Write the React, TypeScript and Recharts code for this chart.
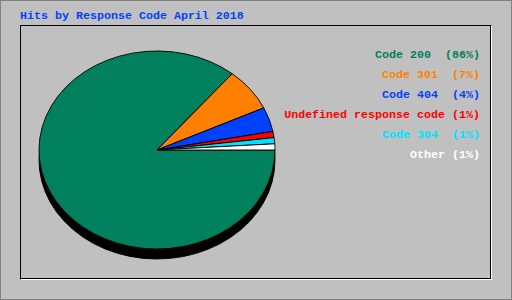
import { PieChart, Pie, Cell } from 'recharts';

// response codes, in drawing order (clockwise from 3 o'clock)
const labels = ['Code 200 ', 'Code 301 ', 'Code 404 ', 'Undefined response code', 'Code 304 ', 'Other'];
const percents = [86, 7, 4, 1, 1, 1];
const COLORS = ['#00805c', '#ff8000', '#0040ff', '#ff0000', '#00e0ff', '#ffffff'];

const TITLE = 'Hits by Response Code April 2018';

const pieData = labels.map((label, i) => ({ name: label, value: percents[i] }));

const CX = 157;
const CY = 150;
const RX = 118;
const RY = 99;
const DEPTH = 10;
const SCALE = RY / RX;

const font = '"Liberation Mono", "DejaVu Sans Mono", monospace';

export default function App() {
  return (
    <div
      style={{
        position: 'absolute',
        left: 0,
        top: 0,
        width: 512,
        height: 300,
        background: '#c0c0c0',
        boxSizing: 'border-box',
        border: '1px solid #808080',
        overflow: 'hidden',
      }}
    >
      {/* inset frame */}
      <div style={{ position: 'absolute', left: 19, top: 24, width: 472, height: 255, borderTop: '1px solid #000', borderLeft: '1px solid #000', borderRight: '1px solid #fff', borderBottom: '1px solid #fff', boxShadow: 'inset -1px -1px 0 #000', boxSizing: 'border-box' }} />
      <div style={{ position: 'absolute', left: 19, top: 6, fontFamily: font, fontWeight: 'bold', fontSize: 11.67, lineHeight: '18px', color: '#0040ff', whiteSpace: 'pre' }}>
        {TITLE}
      </div>

      <div style={{ position: 'absolute', left: -1, top: -1, transform: `scaleY(${SCALE})`, transformOrigin: `0px ${CY}px` }}>
        <PieChart width={512} height={300} margin={{ top: 0, right: 0, bottom: 0, left: 0 }}>
          <Pie
            data={pieData}
            dataKey="value"
            cx={CX}
            cy={CY + DEPTH / SCALE}
            outerRadius={RX}
            startAngle={0}
            endAngle={-360}
            fill="#000"
            stroke="#000"
            isAnimationActive={false}
          />
          <Pie
            data={pieData}
            dataKey="value"
            cx={CX}
            cy={CY}
            outerRadius={RX}
            startAngle={0}
            endAngle={-360}
            stroke="#000"
            strokeWidth={1}
            isAnimationActive={false}
          >
            {pieData.map((entry, index) => (
              <Cell key={`cell-${index}`} fill={COLORS[index]} />
            ))}
          </Pie>
        </PieChart>
      </div>

      <div style={{ position: 'absolute', right: 31, top: 44, textAlign: 'right', fontFamily: font, fontWeight: 'bold', fontSize: 11.67 }}>
        {labels.map((label, i) => (
          <div key={label} style={{ color: COLORS[i], lineHeight: '20px', height: 20, whiteSpace: 'pre' }}>
            {`${label} (${percents[i]}%)`}
          </div>
        ))}
      </div>
    </div>
  );
}
